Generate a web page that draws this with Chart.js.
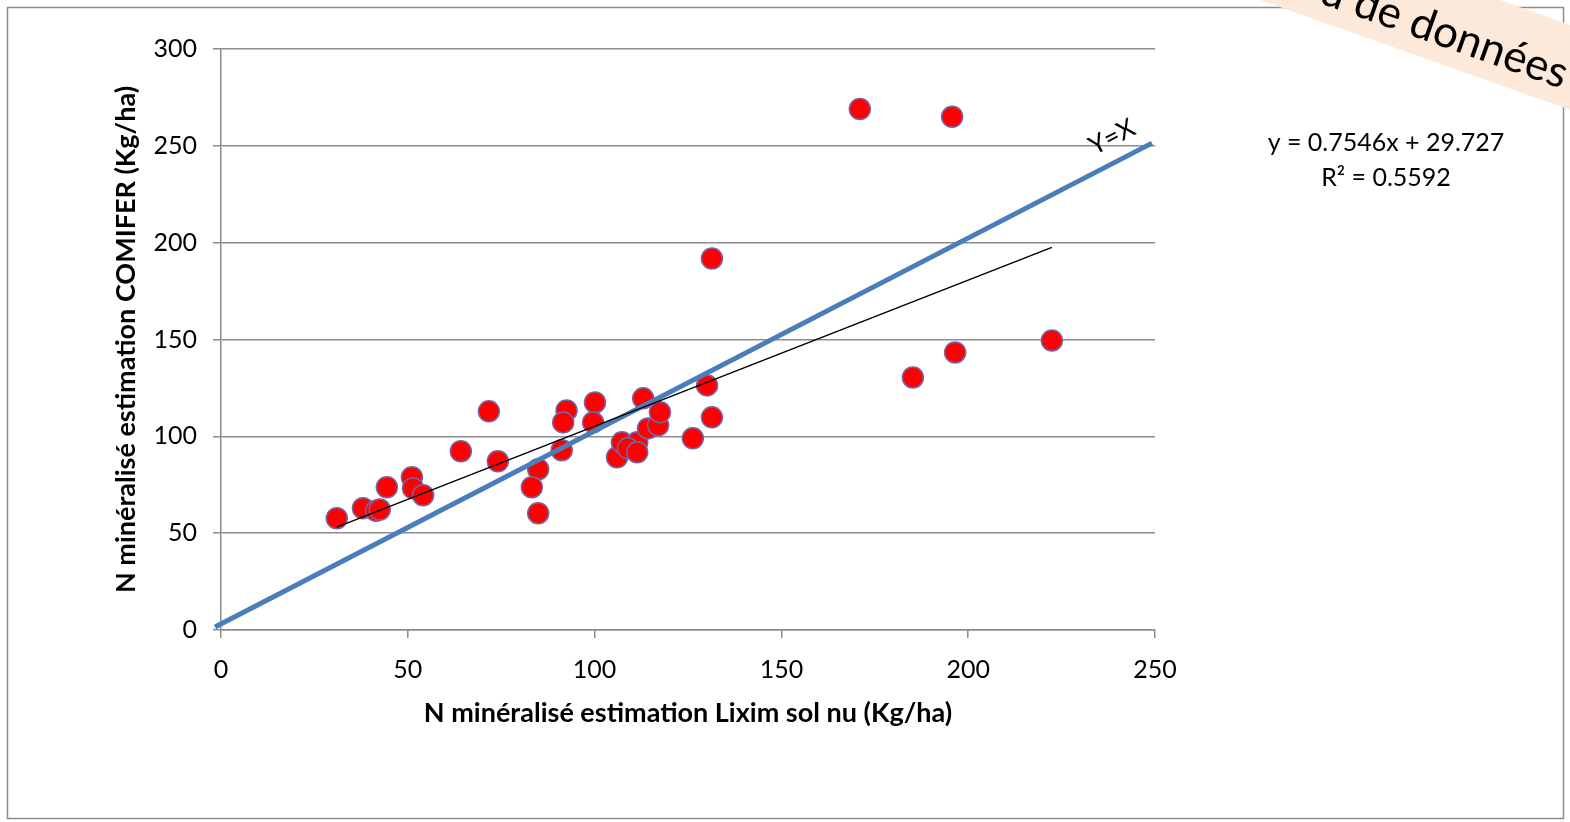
<!DOCTYPE html>
<html>
<head>
<meta charset="utf-8">
<script src="https://cdn.jsdelivr.net/npm/chart.js@4.4.1/dist/chart.umd.min.js"></script>
<style>
  html, body { margin: 0; padding: 0; background: #fff; }
  #chart { display: block; }
</style>
</head>
<body>
<canvas id="chart" width="1570" height="822"></canvas>
<script>
// N minéralisé, Lixim sol nu (x) vs COMIFER (y), Kg/ha
const lixim = [31.0, 38.0, 41.5, 42.5, 44.4, 51.1, 51.4, 54.1, 64.2, 71.7, 74.1, 84.9, 83.2, 84.9,
  91.2, 92.5, 91.6, 100.1, 99.6, 106.0, 107.3, 111.4, 108.9, 111.4, 113.0, 114.3, 117.0, 117.5,
  126.3, 130.1, 131.4, 131.4, 171.0, 195.7, 185.2, 196.5, 222.4];
const comifer = [57.7, 62.9, 61.6, 62.2, 73.7, 78.9, 73.2, 69.6, 92.3, 112.9, 87.1, 83.0, 73.7, 60.3,
  92.8, 113.4, 107.2, 117.5, 107.2, 89.2, 96.9, 96.9, 93.8, 91.8, 119.6, 104.1, 105.7, 112.4,
  99.0, 126.3, 109.8, 191.8, 269.0, 265.0, 130.4, 143.3, 149.5];

// linear trend shown on the chart
const slope = 0.7546;
const intercept = 29.727;
const r2 = 0.5592;

// hand drawn Y=X line, as placed on the slide
const identityX = [-1.6, 249.2];
const identityY = [1.5, 251.4];

const xTicks = [0, 50, 100, 150, 200, 250];
const yTicks = [0, 50, 100, 150, 200, 250, 300];

const FONT = "Lato, 'Open Sans', sans-serif";
const GRID = '#8c8c8c';

const points = lixim.map((x, i) => ({ x, y: comifer[i] }));
const xMin = Math.min(...lixim), xMax = Math.max(...lixim);
const trend = [xMin, xMax].map(x => ({ x, y: slope * x + intercept }));
const identity = identityX.map((x, i) => ({ x, y: identityY[i] }));

// frame, annotations and the corner banner
const decorations = {
  id: 'decorations',
  beforeDraw(chart) {
    const { ctx } = chart;
    ctx.save();
    ctx.fillStyle = '#fff';
    ctx.fillRect(0, 0, chart.width, chart.height);
    ctx.strokeStyle = '#8c8c8c';
    ctx.lineWidth = 1.5;
    ctx.strokeRect(7.5, 7.5, 1556, 811);
    ctx.restore();
  },
  afterDraw(chart) {
    const { ctx, scales: { x, y } } = chart;
    ctx.save();
    // Y=X label along the blue line
    ctx.translate(x.getPixelForValue(238.5), y.getPixelForValue(254.5));
    ctx.rotate(-27.3 * Math.PI / 180);
    ctx.font = `26px ${FONT}`;
    ctx.fillStyle = '#000';
    ctx.textAlign = 'center';
    ctx.textBaseline = 'middle';
    ctx.fillText('Y=X', 0, 0);
    ctx.restore();

    // trendline equation
    ctx.save();
    ctx.font = `25px ${FONT}`;
    ctx.fillStyle = '#000';
    ctx.textAlign = 'center';
    ctx.textBaseline = 'middle';
    ctx.fillText(`y = ${slope}x + ${intercept}`, 1386, 143);
    ctx.fillText(`R² = ${r2}`, 1386, 178);
    ctx.restore();

    // peach banner, top right
    ctx.save();
    ctx.translate(1260, 0);
    ctx.rotate(19.5 * Math.PI / 180);
    ctx.fillStyle = '#fde9d9';
    ctx.fillRect(-300, -80, 700, 80);
    ctx.font = `44px ${FONT}`;
    ctx.fillStyle = '#000';
    ctx.textAlign = 'right';
    ctx.textBaseline = 'alphabetic';
    ctx.fillText('Nouveau jeu de données', 314, -17);
    ctx.restore();
  }
};

new Chart(document.getElementById('chart'), {
  type: 'scatter',
  plugins: [decorations],
  data: {
    datasets: [
      {
        type: 'line', data: trend, order: 1,
        borderColor: '#000', borderWidth: 1.5, pointRadius: 0, fill: false
      },
      {
        type: 'line', data: identity, order: 2, clip: false,
        borderColor: '#4a7ebb', borderWidth: 5, pointRadius: 0, fill: false
      },
      {
        data: points, order: 3,
        backgroundColor: '#ff0000', borderColor: '#7564a6', borderWidth: 1.5,
        pointRadius: 10.5, pointHoverRadius: 10.5
      }
    ]
  },
  options: {
    responsive: false,
    animation: false,
    events: [],
    layout: { padding: { left: 0, top: 49, right: 1570 - 1155, bottom: 0 } },
    plugins: { legend: { display: false }, tooltip: { enabled: false } },
    scales: {
      x: {
        type: 'linear', min: 0, max: 250,
        afterBuildTicks: s => { s.ticks = xTicks.map(value => ({ value })); },
        afterFit: s => { s.height = 822 - 630; },
        grid: { drawOnChartArea: false, drawTicks: true, tickLength: 8, color: GRID, lineWidth: 1.5 },
        border: { display: true, color: GRID, width: 1.5 },
        ticks: { color: '#000', font: { family: FONT, size: 25 }, padding: 17, maxRotation: 0 },
        title: {
          display: true, text: 'N minéralisé estimation Lixim sol nu (Kg/ha)', color: '#000',
          font: { family: FONT, size: 27, weight: 'bold' }, padding: { top: 0, bottom: 93 }
        }
      },
      y: {
        type: 'linear', min: 0, max: 300,
        afterBuildTicks: s => { s.ticks = yTicks.map(value => ({ value })); },
        afterFit: s => { s.width = 221; },
        grid: { drawTicks: true, tickLength: 8, color: GRID, lineWidth: 1.5 },
        border: { display: true, color: GRID, width: 1.5 },
        ticks: { color: '#000', font: { family: FONT, size: 25 }, padding: 16 },
        title: {
          display: true, text: 'N minéralisé estimation COMIFER (Kg/ha)', color: '#000',
          font: { family: FONT, size: 27, weight: 'bold' }, padding: { top: 110, bottom: 110 }
        }
      }
    }
  }
});
</script>
</body>
</html>
